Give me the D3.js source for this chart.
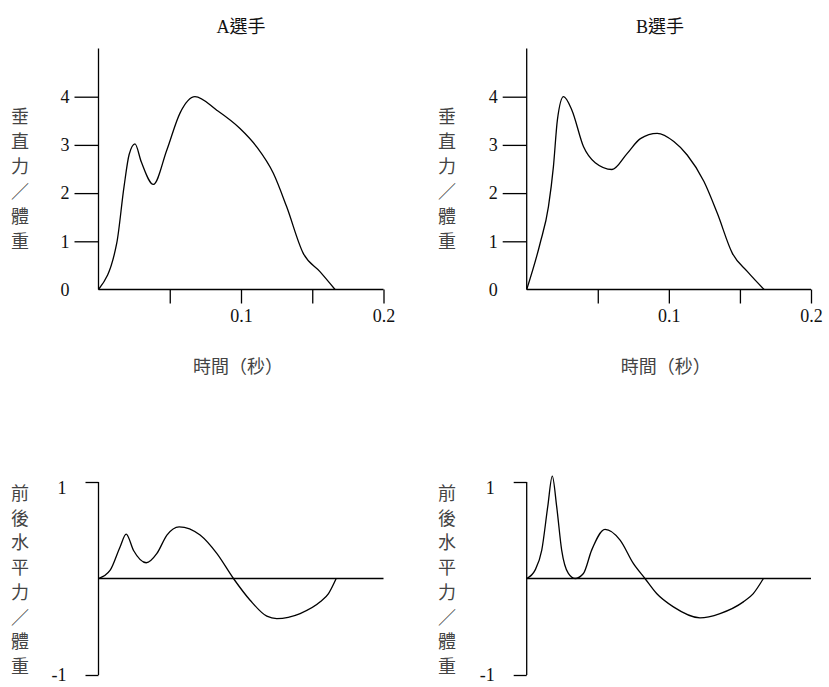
<!DOCTYPE html>
<html><head><meta charset="utf-8">
<script src="https://cdn.jsdelivr.net/npm/d3@7"></script>
<style>
body{margin:0;background:#fff;}
svg{display:block;}
</style></head>
<body>
<svg id="chart" width="829" height="687"></svg>
<script>
// ---- data ----
const titles = ["A選手", "B選手"];
const vertLabel = "垂直力／體重";
const horizLabel = "前後水平力／體重";
const timeLabel = "時間（秒）";
const vertTicks = [0, 1, 2, 3, 4];
const timeTicks = [0.05, 0.1, 0.15, 0.2];
const timeTickLabels = {0.1: "0.1", 0.2: "0.2"};
const horizTicks = [-1, 1];

// A: vertical force / body weight
const aVertT = [0, 0.0128, 0.0179, 0.0215, 0.0256, 0.0300, 0.0385, 0.0479, 0.0572, 0.0677, 0.083, 0.0993, 0.111, 0.1227, 0.132, 0.1437, 0.1554, 0.166];
const aVertV = [0, 0.96, 2.13, 2.80, 3.02, 2.65, 2.18, 2.89, 3.66, 4.0, 3.72, 3.34, 2.96, 2.41, 1.72, 0.75, 0.37, 0];
// B: vertical force / body weight
const bVertT = [0, 0.0094, 0.0153, 0.0188, 0.0216, 0.0259, 0.0318, 0.040, 0.0482, 0.060, 0.0706, 0.080, 0.0918, 0.1035, 0.1129, 0.1247, 0.1341, 0.1447, 0.1553, 0.167];
const bVertV = [0, 0.955, 1.72, 2.55, 3.52, 4.0, 3.72, 2.96, 2.63, 2.49, 2.82, 3.13, 3.24, 3.07, 2.79, 2.24, 1.58, 0.75, 0.37, 0];
// A: fore-aft horizontal force / body weight
const aHorT = [0, 0.0082, 0.0152, 0.0194, 0.0246, 0.0335, 0.041, 0.048, 0.0566, 0.0713, 0.083, 0.0947, 0.1064, 0.1181, 0.1251, 0.1415, 0.1556, 0.1614, 0.1668];
const aHorV = [0, 0.087, 0.33, 0.46, 0.29, 0.163, 0.26, 0.45, 0.536, 0.45, 0.26, 0, -0.225, -0.39, -0.415, -0.363, -0.242, -0.156, 0];
// B: fore-aft horizontal force / body weight
const bHorT = [0, 0.0059, 0.0106, 0.0148, 0.018, 0.0211, 0.0246, 0.0293, 0.034, 0.0399, 0.0457, 0.0551, 0.0657, 0.075, 0.0832, 0.0914, 0.1032, 0.1219, 0.136, 0.1524, 0.1594, 0.1665];
const bHorV = [0, 0.087, 0.294, 0.744, 1.06, 0.744, 0.294, 0.052, 0, 0.052, 0.294, 0.509, 0.398, 0.156, 0, -0.156, -0.294, -0.408, -0.363, -0.242, -0.156, 0];

const svg = d3.select("#chart");
const serif = "'Liberation Serif','Times New Roman',serif";
const cjk = "'Noto Sans CJK TC','Noto Sans CJK SC',sans-serif";

const panels = [
  {x0: 98.5, x1: 383.5, labelX: 20, t: aVertT, v: aVertV, h: aHorT, hv: aHorV, title: titles[0], titleX: 241},
  {x0: 526.7, x1: 811, labelX: 447, t: bVertT, v: bVertV, h: bHorT, hv: bHorV, title: titles[1], titleX: 660}
];

function vertText(str, x, yStart, step) {
  const g = svg.append("g");
  Array.from(str).forEach((ch, i) => {
    g.append("text").attr("x", x).attr("y", yStart + i * step)
      .attr("text-anchor", "middle").attr("dominant-baseline", "central")
      .attr("font-family", cjk).attr("font-size", 18).attr("fill", "#444")
      .text(ch);
  });
}

panels.forEach(p => {
  // ---------- top: vertical force ----------
  const x = d3.scaleLinear().domain([0, 0.2]).range([p.x0, p.x1]);
  const y = d3.scaleLinear().domain([0, 5]).range([289.5, 48.5]);

  svg.append("text").attr("x", p.titleX).attr("y", 33)
    .attr("text-anchor", "middle").attr("font-size", 18).attr("fill", "#111")
    .attr("font-family", serif + "," + cjk).text(p.title);

  const yAx = svg.append("g").attr("transform", `translate(${p.x0},0)`)
    .call(d3.axisLeft(y).tickValues(vertTicks).tickSize(24).tickPadding(5).tickFormat(d => String(d)));
  yAx.select(".domain").remove();
  yAx.selectAll(".tick").filter(d => d === 0).select("line").remove();
  yAx.append("line").attr("x1", 0).attr("x2", 0).attr("y1", y(0)).attr("y2", y(5)).attr("stroke", "#000");

  const xAx = svg.append("g").attr("transform", `translate(0,${y(0)})`)
    .call(d3.axisBottom(x).tickValues(timeTicks).tickSize(14).tickPadding(6).tickFormat(d => timeTickLabels[d] || ""));
  xAx.select(".domain").remove();
  xAx.append("line").attr("x1", x(0)).attr("x2", x(0.2)).attr("stroke", "#000");

  [yAx, xAx].forEach(a => {
    a.attr("font-family", serif);
    a.selectAll("line").attr("stroke", "#000").attr("stroke-width", 1.3);
    a.selectAll("text").attr("font-family", serif).attr("font-size", 18).attr("fill", "#111");
  });

  const line = d3.line().x(d => x(d[0])).y(d => y(d[1])).curve(d3.curveMonotoneX);
  svg.append("path").datum(p.t.map((t, i) => [t, p.v[i]]))
    .attr("d", line).attr("fill", "none").attr("stroke", "#000").attr("stroke-width", 1.3);

  svg.append("text").attr("x", (x(0) + x(0.2)) / 2 - 3).attr("y", 365)
    .attr("text-anchor", "middle").attr("dominant-baseline", "central")
    .attr("font-family", cjk).attr("font-size", 18).attr("fill", "#444").text(timeLabel);

  vertText(vertLabel, p.labelX, 115, 25);

  // ---------- bottom: horizontal force ----------
  const yh = d3.scaleLinear().domain([-1, 1]).range([675, 482]);
  const hAx = svg.append("g").attr("transform", `translate(${p.x0},0)`)
    .call(d3.axisLeft(yh).tickValues(horizTicks).tickSize(13).tickPadding(19).tickFormat(d => String(d)));
  hAx.attr("font-family", serif);
  hAx.select(".domain").remove();
  hAx.append("line").attr("x1", 0).attr("x2", 0).attr("y1", yh(-1)).attr("y2", yh(1));
  hAx.selectAll("line").attr("stroke", "#000").attr("stroke-width", 1.3);
  hAx.selectAll("text").attr("font-family", serif).attr("font-size", 18).attr("fill", "#111")
    .attr("dy", d => d < 0 ? "0.3em" : "0.62em");

  svg.append("line").attr("x1", x(0)).attr("x2", x(0.2)).attr("y1", yh(0)).attr("y2", yh(0))
    .attr("stroke", "#000").attr("stroke-width", 1.3);

  const hline = d3.line().x(d => x(d[0])).y(d => yh(d[1])).curve(d3.curveMonotoneX);
  svg.append("path").datum(p.h.map((t, i) => [t, p.hv[i]]))
    .attr("d", hline).attr("fill", "none").attr("stroke", "#000").attr("stroke-width", 1.3);

  vertText(horizLabel, p.labelX, 492, 24.7);
});
</script>
</body></html>
